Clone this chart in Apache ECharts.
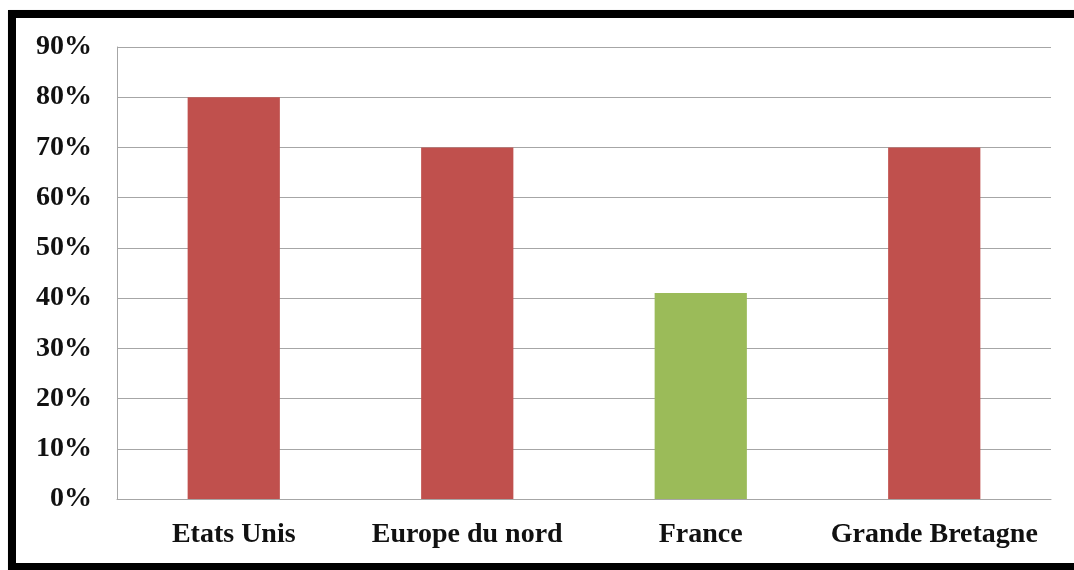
<!DOCTYPE html>
<html>
<head>
<meta charset="utf-8">
<script src="https://cdn.jsdelivr.net/npm/echarts@6/dist/echarts.min.js"></script>
<style>
  html, body { margin: 0; padding: 0; background: #fff; overflow: hidden; }
  #frame {
    position: absolute; left: 8px; top: 10px; width: 1100px; height: 561px;
    box-sizing: border-box; border: 8px solid #000;
    box-shadow: 1px 1px 2px #888;
  }
  #chart { position: absolute; left: 0; top: 0; width: 1074px; height: 570px; }
</style>
</head>
<body>
<div id="frame"></div>
<div id="chart"></div>
<script>
// données
const categories = ["Etats Unis", "Europe du nord", "France", "Grande Bretagne"];
const values = [80, 70, 41, 70];
const barColors = ["#C0504D", "#C0504D", "#9BBB59", "#C0504D"];

const chart = echarts.init(document.getElementById("chart"));
const labelFont = { color: "#111", fontFamily: "Liberation Serif", fontWeight: "bold", fontSize: 28 };

chart.setOption({
  animation: false,
  grid: { left: 117, right: 23, top: 47, bottom: 71 },
  xAxis: {
    type: "category",
    data: categories,
    axisLine: { lineStyle: { color: "#a6a6a6", width: 1 } },
    axisTick: { show: false },
    axisLabel: Object.assign({ margin: 22, interval: 0, hideOverlap: false }, labelFont)
  },
  yAxis: {
    type: "value",
    min: 0, max: 90, interval: 10,
    axisLine: { show: true, lineStyle: { color: "#a6a6a6", width: 1 } },
    axisTick: { show: false },
    splitLine: { lineStyle: { color: "#a6a6a6", width: 1 } },
    axisLabel: Object.assign({ margin: 25, formatter: "{value}%" }, labelFont)
  },
  series: [{
    type: "bar",
    barWidth: "39.5%",
    data: values.map((v, i) => ({ value: v, itemStyle: { color: barColors[i] } }))
  }]
});
</script>
</body>
</html>
